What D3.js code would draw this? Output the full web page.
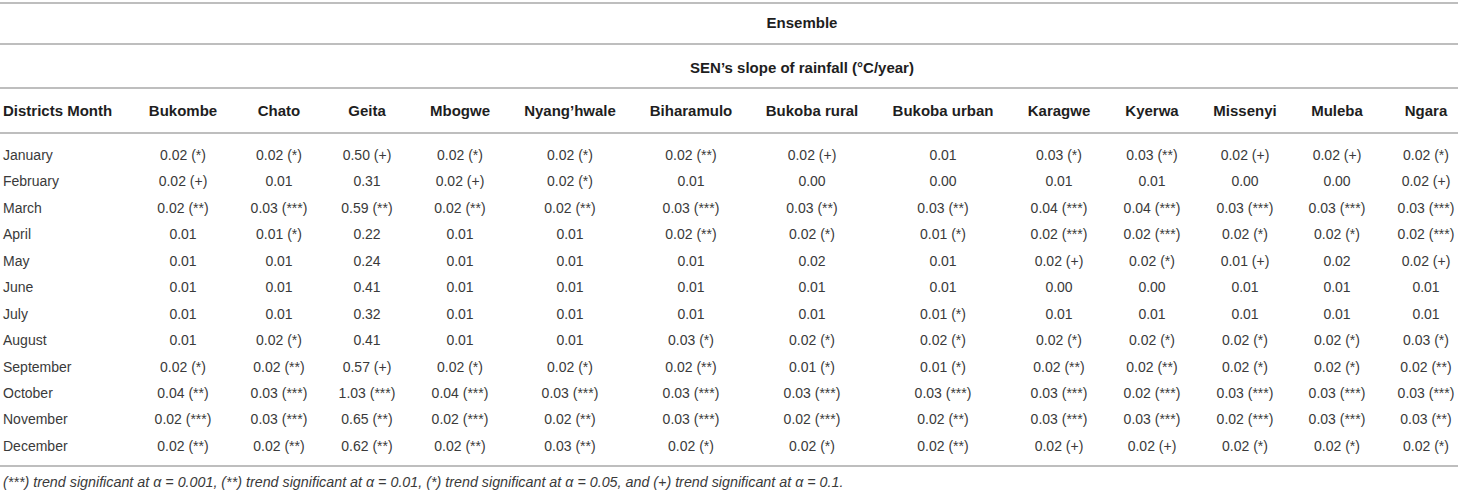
<!DOCTYPE html>
<html>
<head>
<meta charset="utf-8">
<script src="https://cdn.jsdelivr.net/npm/d3@7"></script>
<style>
  html, body { margin: 0; padding: 0; background: #fff; }
  svg { display: block; }
  text { font-family: "Liberation Sans", Arial, Helvetica, sans-serif; }
</style>
</head>
<body>
<svg id="chart" width="1458" height="494"></svg>
<script>
const title1 = "Ensemble";
const title2 = "SEN\u2019s slope of rainfall (\u00B0C/year)";
const rowHeader = "Districts Month";
const districts = ["Bukombe","Chato","Geita","Mbogwe","Nyang\u2019hwale","Biharamulo","Bukoba rural","Bukoba urban","Karagwe","Kyerwa","Missenyi","Muleba","Ngara"];
const months = ["January","February","March","April","May","June","July","August","September","October","November","December"];

const jan = ["0.02 (*)","0.02 (*)","0.50 (+)","0.02 (*)","0.02 (*)","0.02 (**)","0.02 (+)","0.01","0.03 (*)","0.03 (**)","0.02 (+)","0.02 (+)","0.02 (*)"];
const feb = ["0.02 (+)","0.01","0.31","0.02 (+)","0.02 (*)","0.01","0.00","0.00","0.01","0.01","0.00","0.00","0.02 (+)"];
const mar = ["0.02 (**)","0.03 (***)","0.59 (**)","0.02 (**)","0.02 (**)","0.03 (***)","0.03 (**)","0.03 (**)","0.04 (***)","0.04 (***)","0.03 (***)","0.03 (***)","0.03 (***)"];
const apr = ["0.01","0.01 (*)","0.22","0.01","0.01","0.02 (**)","0.02 (*)","0.01 (*)","0.02 (***)","0.02 (***)","0.02 (*)","0.02 (*)","0.02 (***)"];
const may = ["0.01","0.01","0.24","0.01","0.01","0.01","0.02","0.01","0.02 (+)","0.02 (*)","0.01 (+)","0.02","0.02 (+)"];
const jun = ["0.01","0.01","0.41","0.01","0.01","0.01","0.01","0.01","0.00","0.00","0.01","0.01","0.01"];
const jul = ["0.01","0.01","0.32","0.01","0.01","0.01","0.01","0.01 (*)","0.01","0.01","0.01","0.01","0.01"];
const aug = ["0.01","0.02 (*)","0.41","0.01","0.01","0.03 (*)","0.02 (*)","0.02 (*)","0.02 (*)","0.02 (*)","0.02 (*)","0.02 (*)","0.03 (*)"];
const sep = ["0.02 (*)","0.02 (**)","0.57 (+)","0.02 (*)","0.02 (*)","0.02 (**)","0.01 (*)","0.01 (*)","0.02 (**)","0.02 (**)","0.02 (*)","0.02 (*)","0.02 (**)"];
const oct = ["0.04 (**)","0.03 (***)","1.03 (***)","0.04 (***)","0.03 (***)","0.03 (***)","0.03 (***)","0.03 (***)","0.03 (***)","0.02 (***)","0.03 (***)","0.03 (***)","0.03 (***)"];
const nov = ["0.02 (***)","0.03 (***)","0.65 (**)","0.02 (***)","0.02 (**)","0.03 (***)","0.02 (***)","0.02 (**)","0.03 (***)","0.03 (***)","0.02 (***)","0.03 (***)","0.03 (**)"];
const dec = ["0.02 (**)","0.02 (**)","0.62 (**)","0.02 (**)","0.03 (**)","0.02 (*)","0.02 (*)","0.02 (**)","0.02 (+)","0.02 (+)","0.02 (*)","0.02 (*)","0.02 (*)"];
const values = [jan, feb, mar, apr, may, jun, jul, aug, sep, oct, nov, dec];

const footnote = "(***) trend significant at \u03B1 = 0.001, (**) trend significant at \u03B1 = 0.01, (*) trend significant at \u03B1 = 0.05, and (+) trend significant at \u03B1 = 0.1.";

// ---- layout ----
const W = 1458;
const colCenters = [183, 279, 367, 460, 570, 691, 812, 943, 1059, 1152, 1245, 1337, 1426];
const x = d3.scaleOrdinal().domain(districts).range(colCenters);
const y = d3.scalePoint().domain(months).range([155, 446]);

const svg = d3.select("#chart");
const lineColor = "#a8a8a8";
const textColor = "#3a3a3a";
const headColor = "#1e1e1e";
const fsBody = 14;
const fsHead = 15;

[3, 44, 88, 133, 466].forEach(yy => {
  svg.append("line").attr("x1", 0).attr("x2", W).attr("y1", yy).attr("y2", yy)
    .attr("stroke", lineColor).attr("stroke-width", 1.6);
});

svg.append("text").attr("x", 802).attr("y", 23).attr("dy", "0.35em")
  .attr("text-anchor", "middle").attr("font-weight", "bold").attr("font-size", fsHead)
  .attr("fill", headColor).text(title1);
svg.append("text").attr("x", 802).attr("y", 68).attr("dy", "0.35em")
  .attr("text-anchor", "middle").attr("font-weight", "bold").attr("font-size", fsHead)
  .attr("fill", headColor).text(title2);

// header row
svg.append("text").attr("x", 3).attr("y", 111).attr("dy", "0.35em")
  .attr("font-weight", "bold").attr("font-size", fsHead).attr("fill", headColor).text(rowHeader);
svg.selectAll("text.colhead").data(districts).join("text")
  .attr("class", "colhead")
  .attr("x", d => x(d)).attr("y", 111).attr("dy", "0.35em")
  .attr("text-anchor", "middle").attr("font-weight", "bold").attr("font-size", fsHead)
  .attr("fill", headColor).text(d => d);

// month labels
svg.selectAll("text.month").data(months).join("text")
  .attr("class", "month")
  .attr("x", 3).attr("y", d => y(d)).attr("dy", "0.35em")
  .attr("font-size", fsBody).attr("fill", textColor).text(d => d);

// cells
const cells = [];
months.forEach((m, i) => districts.forEach((dname, j) => cells.push({ m, d: dname, v: values[i][j] })));
svg.selectAll("text.cell").data(cells).join("text")
  .attr("class", "cell")
  .attr("x", c => x(c.d)).attr("y", c => y(c.m)).attr("dy", "0.35em")
  .attr("text-anchor", "middle").attr("font-size", fsBody).attr("fill", textColor)
  .text(c => c.v);

svg.append("text").attr("x", 3).attr("y", 482).attr("dy", "0.35em")
  .attr("font-style", "italic").attr("font-size", 14.3).attr("fill", textColor).text(footnote);
</script>
</body>
</html>
